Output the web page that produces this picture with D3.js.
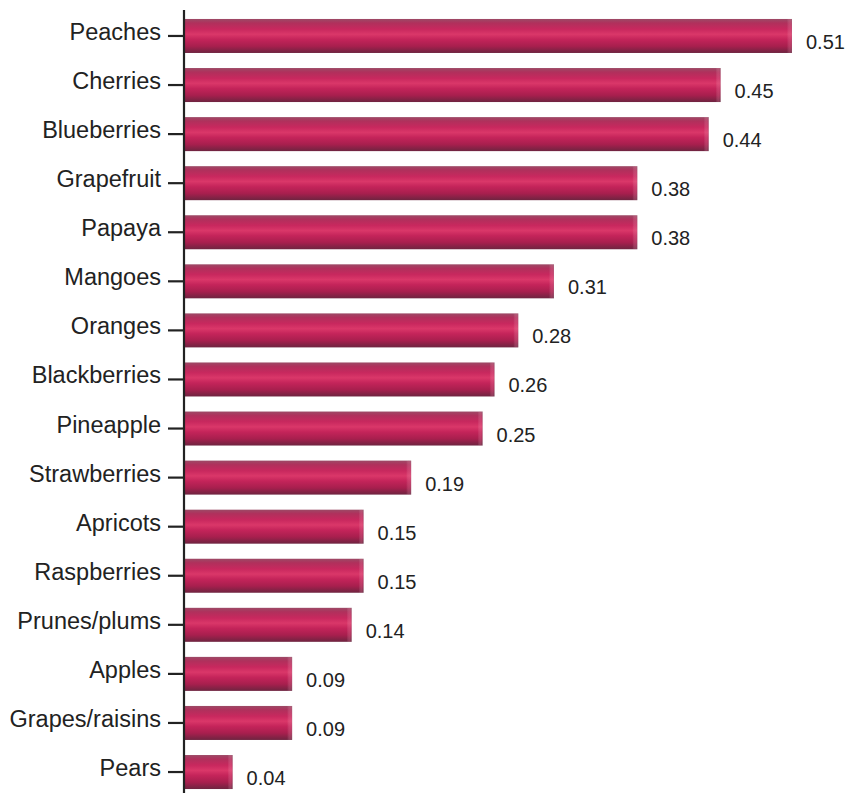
<!DOCTYPE html>
<html><head><meta charset="utf-8">
<script src="https://cdn.jsdelivr.net/npm/d3@7"></script>
<style>body{margin:0;background:#fff}text{font-family:"Liberation Sans",Arial,sans-serif}</style>
</head><body>
<svg id="c" width="845" height="793"></svg>
<script>
const categories = ["Peaches","Cherries","Blueberries","Grapefruit","Papaya","Mangoes","Oranges","Blackberries","Pineapple","Strawberries","Apricots","Raspberries","Prunes/plums","Apples","Grapes/raisins","Pears"];
const values = [0.51,0.45,0.44,0.38,0.38,0.31,0.28,0.26,0.25,0.19,0.15,0.15,0.14,0.09,0.09,0.04];
const valueLabels = ["0.51","0.45","0.44","0.38","0.38","0.31","0.28","0.26","0.25","0.19","0.15","0.15","0.14","0.09","0.09","0.04"];

const data = categories.map((c,i)=>({c, v: values[i], l: valueLabels[i]}));
const svg = d3.select("#c");
const x = d3.scaleLinear().domain([0, 0.51]).range([185, 792]);
const y = d3.scaleBand().domain(categories).range([3.9, 804.1]).padding(0.307);

const defs = svg.append("defs");
const g1 = defs.append("linearGradient").attr("id","bg").attr("x1",0).attr("y1",0).attr("x2",0).attr("y2",1);
[[0,"#9c4a66"],[0.12,"#b0305c"],[0.3,"#c8285e"],[0.45,"#da3769"],[0.6,"#c4245a"],[0.8,"#a81f4e"],[1,"#6e2440"]].forEach(s=>g1.append("stop").attr("offset",s[0]).attr("stop-color",s[1]));
const g2 = defs.append("linearGradient").attr("id","edge").attr("x1",0).attr("y1",0).attr("x2",1).attr("y2",0);
[[0,"#ffffff",0],[0.55,"#f08aa8",0.25],[0.8,"#ffffff",0.1],[1,"#777777",0.35]].forEach(s=>g2.append("stop").attr("offset",s[0]).attr("stop-color",s[1]).attr("stop-opacity",s[2]));

const bars = svg.append("g").selectAll("g").data(data).join("g");
bars.append("rect").attr("x", x(0)).attr("y", d=>y(d.c)).attr("width", d=>x(d.v)-x(0)).attr("height", y.bandwidth()).attr("fill","url(#bg)");
bars.append("rect").attr("x", d=>x(d.v)-5).attr("y", d=>y(d.c)).attr("width", 5).attr("height", y.bandwidth()).attr("fill","url(#edge)");
bars.append("text").attr("x", d=>x(d.v)+14).attr("y", d=>y(d.c)+y.bandwidth()/2+13).attr("font-size","20px").attr("fill","#222").text(d=>d.l);

const ax = svg.append("g").attr("transform","translate(184,0)").call(d3.axisLeft(y).tickSize(16).tickPadding(7).tickSizeOuter(0));
ax.select(".domain").remove();
ax.selectAll(".tick line").attr("stroke","#222").attr("stroke-width",2.2);
ax.selectAll(".tick text").attr("font-size","23.5px").attr("fill","#222").attr("font-family","'Liberation Sans',Arial,sans-serif").attr("dy","4");
svg.append("line").attr("x1",184).attr("x2",184).attr("y1",10).attr("y2",793).attr("stroke","#222").attr("stroke-width",2.2);
</script>
</body></html>
